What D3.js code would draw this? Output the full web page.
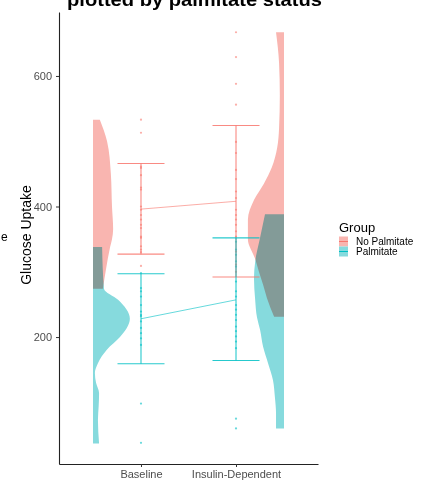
<!DOCTYPE html>
<html>
<head>
<meta charset="utf-8">
<script src="https://cdn.jsdelivr.net/npm/d3@7"></script>
<style>
  body { margin: 0; background: #fff; }
  svg { display: block; font-family: "Liberation Sans", Arial, sans-serif; }
</style>
</head>
<body>
<svg id="chart" width="422" height="480"></svg>
<script>
// Glucose uptake raincloud: half violins + points + mean/SD bars, by palmitate group

var timepoints = ["Baseline", "Insulin-Dependent"];
var groups = ["No Palmitate", "Palmitate"];
var lineColors = ["#F8766D", "#00BFC4"];
var violinFills = ["#F9B5B0", "#86DADD"];

// mean and mean +/- SD (Baseline, Insulin-Dependent)
var meanNoPalm = [396, 408];
var lowNoPalm = [327, 292];
var highNoPalm = [466, 524];
var meanPalm = [228, 257];
var lowPalm = [159, 164];
var highPalm = [297, 352];

// individual observations
var ptsNoPalmBase = [533, 513, 461, 459, 448, 429, 426, 400, 395, 387, 380, 372, 367, 354, 352, 339, 334, 330, 309];
var ptsPalmBase = [298, 275, 270, 262, 249, 239, 234, 232, 224, 214, 206, 198, 188, 98, 38];
var ptsNoPalmIns = [667, 629, 588, 556, 499, 482, 456, 442, 423, 413, 395, 387, 380, 372, 362, 354, 331, 311, 300];
var ptsPalmIns = [346, 334, 326, 316, 308, 285, 270, 262, 249, 242, 234, 226, 216, 209, 201, 193, 183, 75, 60];

// half-violin outlines: [glucose uptake, relative density]
var densNoPalmBase = [[533, 18], [500, 37], [450, 47], [400, 50], [365, 53], [350, 50], [338, 45], [303, 34], [274, 26]];
var densPalmBase = [[338, 24], [274, 29], [257, 66], [228, 97], [200, 71], [181, 37], [160, 13], [145, 5], [130, 8],
                    [114, 16], [95, 15], [73, 13], [37, 16]];
var densNoPalmIns = [[667, 21], [620, 13], [570, 11], [520, 13], [490, 18], [460, 32], [435, 53], [410, 79], [380, 95],
                     [350, 95], [320, 76], [300, 66], [280, 55], [260, 45], [231, 26]];
var densPalmIns = [[388, 50], [352, 63], [315, 76], [290, 79], [258, 76], [230, 71], [211, 63], [185, 55], [160, 42],
                   [134, 29], [108, 24], [83, 21], [60, 21]];

var svg = d3.select("#chart");
var panel = { left: 59, right: 318, top: 12, bottom: 464 };

var x = d3.scalePoint().domain(timepoints).range([panel.left, panel.right]).padding(0.863);
var y = d3.scaleLinear().domain([5.5, 698]).range([panel.bottom, panel.top]);
var densW = d3.scaleLinear().domain([0, 100]).range([0, 38]);
var violinOffset = 48;
var capHalf = 23.5;

// violins: baseline opens to the right, insulin-dependent to the left
var violins = [
    { dens: densNoPalmBase, t: 0, g: 0, dir: 1 },
    { dens: densNoPalmIns, t: 1, g: 0, dir: -1 },
    { dens: densPalmBase, t: 0, g: 1, dir: 1 },
    { dens: densPalmIns, t: 1, g: 1, dir: -1 }
];

var violinG = svg.append("g").attr("class", "violins");
violins.forEach(function(v) {
    var edge = x(timepoints[v.t]) - v.dir * violinOffset;
    var area = d3.area()
        .curve(d3.curveMonotoneY)
        .y(function(d) { return y(d[0]); })
        .x0(edge)
        .x1(function(d) { return edge + v.dir * densW(d[1]); });
    var sorted = v.dens.slice().sort(function(a, b) { return b[0] - a[0]; });
    violinG.append("path")
        .attr("d", area(sorted))
        .attr("fill", violinFills[v.g])
        .style("mix-blend-mode", v.g === 1 ? "multiply" : null);
});

// axes
var yAxis = svg.append("g")
    .attr("transform", "translate(" + panel.left + ",0)")
    .call(d3.axisLeft(y).tickValues([200, 400, 600]).tickSize(3).tickSizeOuter(0).tickPadding(4));
var xAxis = svg.append("g")
    .attr("transform", "translate(0," + panel.bottom + ")")
    .call(d3.axisBottom(x).tickSize(3).tickSizeOuter(0).tickPadding(3.2));

[yAxis, xAxis].forEach(function(a) {
    a.select(".domain").attr("stroke", "#222").attr("stroke-width", 1.1);
    a.selectAll(".tick line").attr("stroke", "#333");
    a.selectAll(".tick text")
        .attr("fill", "#4D4D4D")
        .style("font-size", "11px")
        .style("font-family", "'Liberation Sans', Arial, sans-serif");
});

// mean connectors
var means = [meanNoPalm, meanPalm];
var lows = [lowNoPalm, lowPalm];
var highs = [highNoPalm, highPalm];

means.forEach(function(m, g) {
    svg.append("line")
        .attr("x1", x(timepoints[0])).attr("y1", y(m[0]))
        .attr("x2", x(timepoints[1])).attr("y2", y(m[1]))
        .attr("stroke", lineColors[g])
        .attr("stroke-opacity", 0.6)
        .attr("stroke-width", 1);
});

// points
var pointSets = [
    { vals: ptsNoPalmBase, t: 0, g: 0 },
    { vals: ptsNoPalmIns, t: 1, g: 0 },
    { vals: ptsPalmBase, t: 0, g: 1 },
    { vals: ptsPalmIns, t: 1, g: 1 }
];
pointSets.forEach(function(p) {
    svg.append("g").selectAll("circle")
        .data(p.vals)
        .enter()
        .append("circle")
        .attr("cx", x(timepoints[p.t]))
        .attr("cy", function(d) { return y(d); })
        .attr("r", 1.1)
        .attr("fill", lineColors[p.g])
        .attr("fill-opacity", 0.6);
});

// error bars (mean +/- SD)
groups.forEach(function(name, g) {
    timepoints.forEach(function(t, i) {
        var cx = x(t);
        var eb = svg.append("g")
            .attr("stroke", lineColors[g])
            .attr("stroke-width", 1.1)
            .attr("stroke-opacity", 0.85);
        eb.append("line").attr("x1", cx).attr("x2", cx)
            .attr("y1", y(lows[g][i])).attr("y2", y(highs[g][i]));
        eb.append("line").attr("x1", cx - capHalf).attr("x2", cx + capHalf)
            .attr("y1", y(lows[g][i])).attr("y2", y(lows[g][i]));
        eb.append("line").attr("x1", cx - capHalf).attr("x2", cx + capHalf)
            .attr("y1", y(highs[g][i])).attr("y2", y(highs[g][i]));
    });
});

// axis title
svg.append("text")
    .attr("transform", "translate(26,235) rotate(-90)")
    .attr("text-anchor", "middle")
    .attr("dy", "0.35em")
    .style("font-size", "14px")
    .attr("fill", "#000")
    .text("Glucose Uptake");

// clipped remains of a neighbouring label
svg.append("text")
    .attr("x", 1)
    .attr("y", 241)
    .style("font-size", "12px")
    .attr("fill", "#000")
    .text("e");

// title, mostly cut off at the top
svg.append("text")
    .attr("x", 194.5)
    .attr("y", 6)
    .attr("text-anchor", "middle")
    .attr("textLength", 255)
    .attr("lengthAdjust", "spacingAndGlyphs")
    .style("font-size", "19px")
    .style("font-weight", "bold")
    .attr("fill", "#000")
    .text("plotted by palmitate status");

// legend
var legend = svg.append("g").attr("transform", "translate(339,0)");
legend.append("text")
    .attr("x", 0).attr("y", 232)
    .style("font-size", "13px")
    .attr("fill", "#000")
    .text("Group");

groups.forEach(function(name, g) {
    var top = 236.5 + g * 10;
    legend.append("rect")
        .attr("x", 0).attr("y", top)
        .attr("width", 9).attr("height", 10)
        .attr("fill", violinFills[g]);
    legend.append("line")
        .attr("x1", 0).attr("x2", 9)
        .attr("y1", top + 5).attr("y2", top + 5)
        .attr("stroke", lineColors[g])
        .attr("stroke-width", 1);
    legend.append("text")
        .attr("x", 17).attr("y", top + 5)
        .attr("dy", "0.35em")
        .style("font-size", "10px")
        .attr("fill", "#000")
        .text(name);
});
</script>
</body>
</html>
